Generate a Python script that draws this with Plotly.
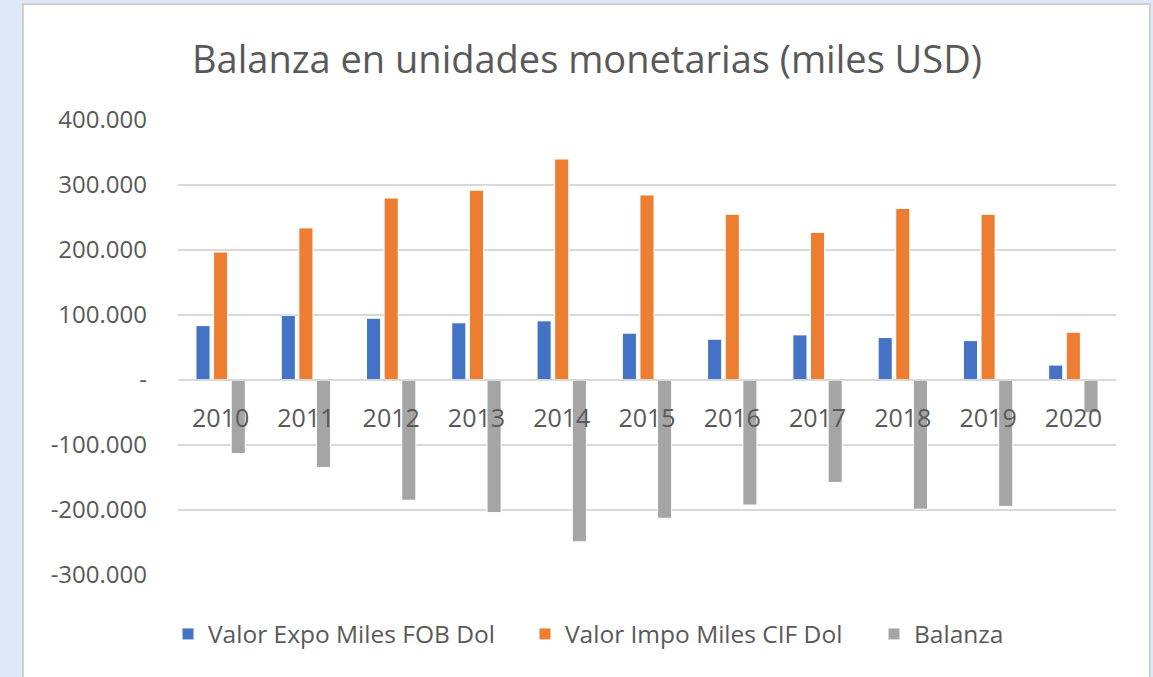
import plotly.graph_objects as go

years = ["2010", "2011", "2012", "2013", "2014", "2015", "2016", "2017", "2018", "2019", "2020"]
expo = [83700, 99500, 95000, 88000, 91000, 72000, 62700, 69400, 65300, 60600, 23000]
impo = [196900, 234000, 280000, 292000, 340000, 284700, 255000, 227000, 264000, 255000, 73500]
balanza = [-113200, -134500, -185000, -204000, -249000, -212700, -192300, -157600, -198700, -194400, -50500]

y_tickvals = [-300000, -200000, -100000, 0, 100000, 200000, 300000, 400000]
y_ticktext = ["-300.000", "-200.000", "-100.000", "-", "100.000", "200.000", "300.000", "400.000"]

names = ["Valor Expo Miles FOB Dol", "Valor Impo Miles CIF Dol", "Balanza"]
colors = ["#4472C4", "#ED7D31", "#A5A5A5"]
legend_ids = ["legend", "legend2", "legend3"]

FONT = "Open Sans"
TXT = "#595959"

fig = go.Figure()
for name, vals, col, lg in zip(names, [expo, impo, balanza], colors, legend_ids):
    fig.add_trace(go.Bar(
        x=years, y=vals, name=name, legend=lg,
        marker=dict(color=col, line=dict(color="white", width=1)),
    ))

W, H = 1153, 677
ml, mr, mt, mb = 178, 37, 120, 102
pw = W - ml - mr
ph = H - mt - mb

def px_x(x):
    return (x - ml) / pw

def px_y(y):
    return (H - mb - y) / ph

# chart area frame (white with light gray border) on light-blue page
fig.add_shape(type="rect", xref="paper", yref="paper",
              x0=px_x(23), x1=px_x(1150), y0=px_y(700), y1=px_y(4),
              fillcolor="white", line=dict(color="#D0D0D0", width=2), layer="below")

def legend_cfg(xpx):
    return dict(orientation="h", x=px_x(xpx), xanchor="left", y=px_y(634), yanchor="middle",
                font=dict(family=FONT, size=24.5, color=TXT), bgcolor="rgba(0,0,0,0)",
                itemwidth=30)

fig.update_layout(
    width=W, height=H,
    margin=dict(l=ml, r=mr, t=mt, b=mb),
    paper_bgcolor="#DEE8F6",
    plot_bgcolor="white",
    barmode="group",
    bargap=0.38,
    bargroupgap=0.2,
    title=dict(text="Balanza en unidades monetarias (miles USD)",
               x=px_x(587), xanchor="center", y=(H - 60) / H, yanchor="middle",
               xref="paper", yref="container",
               font=dict(family=FONT, size=38, color=TXT)),
    font=dict(family=FONT, color=TXT),
    showlegend=True,
    legend=legend_cfg(168),
    legend2=legend_cfg(525),
    legend3=legend_cfg(874),
)

fig.update_yaxes(
    range=[-300000, 400000],
    tickvals=y_tickvals, ticktext=y_ticktext,
    showgrid=True, gridcolor="#D9D9D9", gridwidth=2,
    zeroline=False, showline=False, ticks="",
    tickfont=dict(family=FONT, size=24, color=TXT),
    ticklabelstandoff=30,
)
fig.update_xaxes(
    anchor="free", position=3 / 7,
    showline=True, linecolor="#D9D9D9", linewidth=2,
    showgrid=False, ticks="",
    tickfont=dict(family=FONT, size=25, color=TXT),
    ticklabelstandoff=16,
)

fig.write_html("out.html", config={"displayModeBar": False},
               post_script="document.body.style.margin='0';document.body.style.background='#DEE8F6';")
